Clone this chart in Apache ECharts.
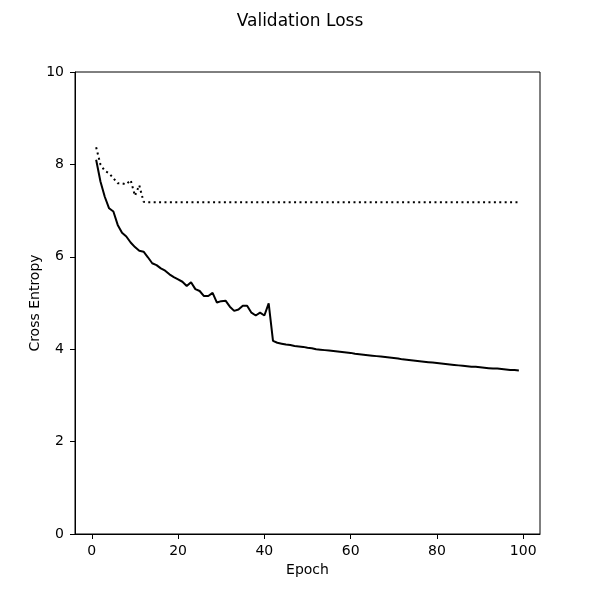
<!DOCTYPE html>
<html>
<head>
<meta charset="utf-8">
<script src="https://cdn.jsdelivr.net/npm/echarts@6/dist/echarts.min.js"></script>
<style>html,body{margin:0;padding:0;background:#fff}#c{width:600px;height:600px}</style>
</head>
<body>
<div id="c"></div>
<script>
const epochs = [1,2,3,4,5,6,7,8,9,10,11,12,13,14,15,16,17,18,19,20,21,22,23,24,25,26,27,28,29,30,31,32,33,34,35,36,37,38,39,40,41,42,43,44,45,46,47,48,49,50,51,52,53,54,55,56,57,58,59,60,61,62,63,64,65,66,67,68,69,70,71,72,73,74,75,76,77,78,79,80,81,82,83,84,85,86,87,88,89,90,91,92,93,94,95,96,97,98,99];
const solidLoss = [8.10,7.63,7.30,7.05,6.98,6.69,6.52,6.44,6.31,6.21,6.13,6.11,5.99,5.86,5.82,5.75,5.70,5.62,5.56,5.51,5.46,5.37,5.45,5.30,5.26,5.15,5.15,5.22,5.01,5.04,5.05,4.92,4.83,4.86,4.94,4.94,4.79,4.73,4.79,4.73,4.99,
4.18,4.14,4.12,4.10,4.09,4.07,4.06,4.05,4.03,4.02,4.00,3.99,3.98,3.97,3.96,3.95,3.94,3.93,3.92,3.90,3.89,3.88,3.87,3.86,3.85,3.84,3.83,3.82,3.81,3.80,3.78,3.77,3.76,3.75,3.74,3.73,3.72,3.71,3.70,3.69,3.68,3.67,3.66,3.65,3.64,3.63,3.62,3.62,3.61,3.60,3.59,3.58,3.58,3.57,3.56,3.55,3.55,3.54];
const dottedLoss = [8.37,8.00,7.86,7.81,7.70,7.59,7.59,7.57,7.66,7.32,7.55,7.19,
7.18,7.18,7.18,7.18,7.18,7.18,7.18,7.18,7.18,7.18,
7.18,7.18,7.18,7.18,7.18,7.18,7.18,7.18,7.18,7.18,
7.18,7.18,7.18,7.18,7.18,7.18,7.18,7.18,7.18,7.18,
7.18,7.18,7.18,7.18,7.18,7.18,7.18,7.18,7.18,7.18,
7.18,7.18,7.18,7.18,7.18,7.18,7.18,7.18,7.18,7.18,
7.18,7.18,7.18,7.18,7.18,7.18,7.18,7.18,7.18,7.18,
7.18,7.18,7.18,7.18,7.18,7.18,7.18,7.18,7.18,7.18,
7.18,7.18,7.18,7.18,7.18,7.18,7.18,7.18,7.18,7.18,
7.18,7.18,7.18,7.18,7.18,7.18,7.18];
const xTicks = [0,20,40,60,80,100];
const yTicks = [0,2,4,6,8,10];

const font = 'DejaVu Sans';
const chart = echarts.init(document.getElementById('c'));
chart.setOption({
  animation: false,
  backgroundColor: '#fff',
  title: {text: 'Validation Loss', left: 'center', top: 8,
    textStyle: {fontFamily: font, fontSize: 17, fontWeight: 'normal', color: '#000'}},
  grid: {left: 75, right: 60, top: 72, bottom: 66, show: true, borderColor: '#000', borderWidth: 1, backgroundColor: 'transparent'},
  xAxis: {
    type: 'value', min: -3.9, max: 103.9,
    name: 'Epoch', nameLocation: 'middle', nameGap: 29, nameMoveOverlap: false,
    nameTextStyle: {fontFamily: font, fontSize: 14, color: '#000'},
    splitLine: {show: false},
    axisLine: {show: true, onZero: false, lineStyle: {color: '#000', width: 1}},
    axisTick: {show: true, length: 5, lineStyle: {color: '#000'}, customValues: xTicks},
    axisLabel: {fontFamily: font, fontSize: 14, color: '#000', margin: 10, customValues: xTicks}
  },
  yAxis: {
    type: 'value', min: 0, max: 10, interval: 2,
    name: 'Cross Entropy', nameLocation: 'middle', nameGap: 33, nameMoveOverlap: false,
    nameTextStyle: {fontFamily: font, fontSize: 14, color: '#000'},
    splitLine: {show: false},
    axisLine: {show: true, onZero: false, lineStyle: {color: '#000', width: 1}},
    axisTick: {show: true, length: 5, lineStyle: {color: '#000'}, customValues: yTicks},
    axisLabel: {fontFamily: font, fontSize: 14, color: '#000', margin: 11, customValues: yTicks}
  },
  series: [
    {type: 'line', data: epochs.map((e, i) => [e, dottedLoss[i]]), showSymbol: false, symbol: 'none',
     lineStyle: {color: '#000', width: 2, type: [2, 3.4]}},
    {type: 'line', data: epochs.map((e, i) => [e, solidLoss[i]]), showSymbol: false, symbol: 'none',
     lineStyle: {color: '#000', width: 2}}
  ]
});
</script>
</body>
</html>
